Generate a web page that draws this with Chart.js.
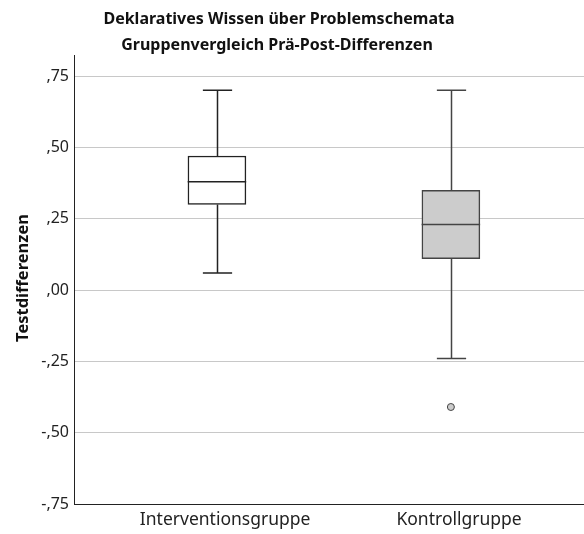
<!DOCTYPE html>
<html>
<head>
<meta charset="utf-8">
<script src="https://cdn.jsdelivr.net/npm/chart.js@4"></script>
<style>
  html, body { margin: 0; padding: 0; background: #fff; overflow: hidden; }
  canvas { display: block; }
</style>
</head>
<body>
<canvas id="chart" width="584" height="534"></canvas>
<script>
const groups = ['Interventionsgruppe', 'Kontrollgruppe'];
const groupPos = [1, 2];
const whiskerLow = [0.06, -0.24];
const q1 = [0.30, 0.11];
const median = [0.38, 0.23];
const q3 = [0.47, 0.35];
const whiskerHigh = [0.70, 0.70];
const outliers = [[], [-0.41]];
const yTicks = [-0.75, -0.5, -0.25, 0, 0.25, 0.5, 0.75];

const titleLines = ['Deklaratives Wissen über Problemschemata', 'Gruppenvergleich Prä-Post-Differenzen'];
const yTitle = 'Testdifferenzen';

const FONT = '"Noto Sans", "Open Sans", sans-serif';
const boxFill = ['#ffffff', '#cccccc'];
const boxLine = ['#222222', '#444444'];
const labelShift = 0.035; // SPSS puts the category labels a bit right of the boxes

// SPSS-style german number format: ,75  -,25  ,00
const fmt = (v) => {
  const s = Math.abs(v).toFixed(2).replace('0.', ',');
  return v < 0 ? '-' + s : s;
};

const boxPlot = {
  id: 'boxPlot',
  beforeDatasetsDraw(chart) {
    const { ctx } = chart;
    const x = chart.scales.x, y = chart.scales.y;
    const half = (x.getPixelForValue(1.125) - x.getPixelForValue(1)) / 2;
    ctx.save();
    groupPos.forEach((g, i) => {
      const cx = Math.round(x.getPixelForValue(g)) + 0.5;
      ctx.strokeStyle = boxLine[i];
      ctx.lineWidth = 1.5;
      ctx.beginPath();
      ctx.moveTo(cx, y.getPixelForValue(whiskerHigh[i]));
      ctx.lineTo(cx, y.getPixelForValue(q3[i]));
      ctx.moveTo(cx, y.getPixelForValue(q1[i]));
      ctx.lineTo(cx, y.getPixelForValue(whiskerLow[i]));
      [whiskerHigh[i], whiskerLow[i]].forEach((w) => {
        const py = y.getPixelForValue(w);
        ctx.moveTo(cx - half, py);
        ctx.lineTo(cx + half, py);
      });
      ctx.stroke();
    });
    ctx.restore();
  },
  afterDatasetsDraw(chart) {
    const { ctx } = chart;
    const x = chart.scales.x, y = chart.scales.y;
    const hw = (x.getPixelForValue(1.125) - x.getPixelForValue(1));
    ctx.save();
    groupPos.forEach((g, i) => {
      const cx = x.getPixelForValue(g);
      const py = y.getPixelForValue(median[i]);
      ctx.strokeStyle = boxLine[i];
      ctx.lineWidth = 1.5;
      ctx.beginPath();
      ctx.moveTo(cx - hw, py);
      ctx.lineTo(cx + hw, py);
      ctx.stroke();
    });
    // titles
    ctx.fillStyle = '#111';
    ctx.font = 'bold 16px ' + FONT;
    ctx.textAlign = 'center';
    ctx.textBaseline = 'middle';
    ctx.fillText(titleLines[0], 279, 19);
    ctx.fillText(titleLines[1], 277, 45);
    ctx.translate(23, 278);
    ctx.rotate(-Math.PI / 2);
    ctx.font = 'bold 16.5px ' + FONT;
    ctx.fillText(yTitle, 0, 0);
    ctx.restore();
  }
};

new Chart(document.getElementById('chart'), {
  data: {
    datasets: [
      {
        type: 'bar',
        data: groupPos.map((g, i) => ({ x: g, y: [q1[i], q3[i]] })),
        backgroundColor: boxFill,
        borderColor: boxLine,
        borderWidth: 1.5,
        borderSkipped: false,
        barThickness: 58
      },
      {
        type: 'scatter',
        data: outliers.flatMap((arr, i) => arr.map((v) => ({ x: groupPos[i], y: v }))),
        backgroundColor: '#cccccc',
        borderColor: '#444444',
        borderWidth: 1,
        pointRadius: 3.5
      }
    ]
  },
  options: {
    responsive: false,
    animation: false,
    layout: { autoPadding: false, padding: { top: 55, right: 0, left: 0, bottom: 0 } },
    plugins: { legend: { display: false }, tooltip: { enabled: false } },
    scales: {
      x: {
        type: 'linear',
        offset: false,
        min: 0.389,
        max: 2.569,
        afterBuildTicks: (s) => { s.ticks = groupPos.map((v) => ({ value: v + labelShift })); },
        afterFit: (s) => { s.height = 30; s.paddingRight = 0; },
        grid: { display: false, drawTicks: false },
        border: { color: '#222', width: 1 },
        ticks: {
          padding: 6,
          color: '#222',
          font: { family: FONT, size: 17.5 },
          callback: (v) => groups[groupPos.indexOf(Math.round(v))] || ''
        }
      },
      y: {
        min: -0.75,
        max: 0.824,
        afterBuildTicks: (s) => { s.ticks = yTicks.map((v) => ({ value: v })); },
        afterFit: (s) => { s.width = 74; },
        grid: { color: '#c8c8c8', drawTicks: false },
        border: { color: '#222', width: 1 },
        ticks: {
          padding: 5,
          color: '#222',
          font: { family: FONT, size: 16 },
          callback: (v) => fmt(v)
        }
      }
    }
  },
  plugins: [boxPlot]
});
</script>
</body>
</html>
